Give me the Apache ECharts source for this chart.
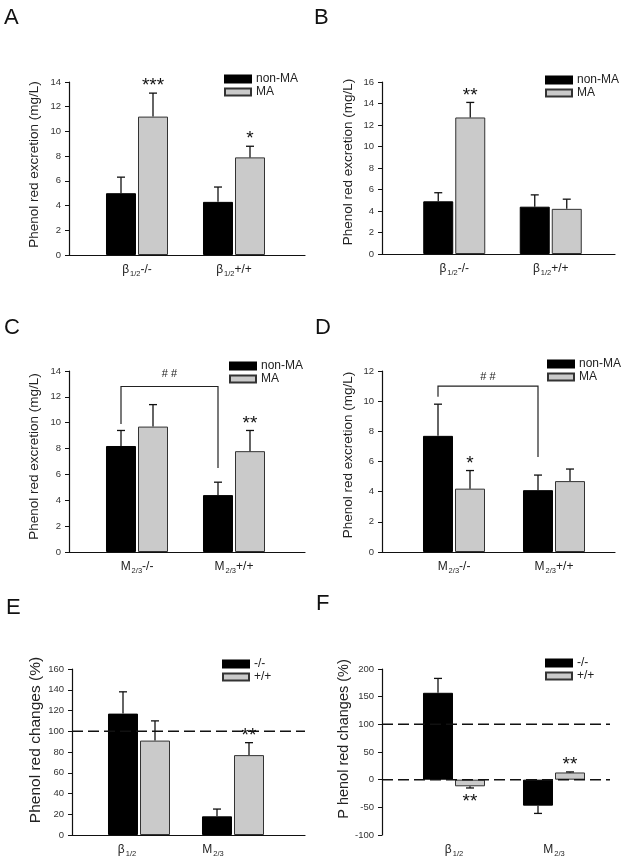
<!DOCTYPE html>
<html><head><meta charset="utf-8">
<script src="https://cdn.jsdelivr.net/npm/echarts@6/dist/echarts.min.js"></script>
<style>html,body{margin:0;padding:0;background:#fff}#c{width:625px;height:862px}</style>
</head><body><div id="c"></div>
<script>
// ---------- data ----------
const catsBeta = ['β|1/2|-/-', 'β|1/2|+/+'];
const catsM = ['M|2/3|-/-', 'M|2/3|+/+'];
const catsEF = ['β|1/2|', 'M|2/3|'];
const namesMA = ['non-MA', 'MA'];
const namesGeno = ['-/-', '+/+'];
const yNameExc = 'Phenol red excretion (mg/L)';
const yNameE = 'Phenol red changes (%)';
const yNameF = 'P henol red changes (%)';

// A
const nonMA_A = [5.0, 4.3], nonMA_A_err = [6.3, 5.5];
const MA_A = [11.2, 7.9], MA_A_err = [13.1, 8.8];
const sigMA_A = ['***', '*'];
// B
const nonMA_B = [4.9, 4.4], nonMA_B_err = [5.7, 5.5];
const MA_B = [12.7, 4.2], MA_B_err = [14.1, 5.1];
const sigMA_B = ['**', ''];
// C
const nonMA_C = [8.2, 4.4], nonMA_C_err = [9.4, 5.4];
const MA_C = [9.7, 7.8], MA_C_err = [11.4, 9.4];
const sigMA_C = ['', '**'];
const bracket_C = [9.9, 12.8, 6.5]; // left start, top, right end
// D
const nonMA_D = [7.7, 4.1], nonMA_D_err = [9.8, 5.1];
const MA_D = [4.2, 4.7], MA_D_err = [5.4, 5.5];
const sigMA_D = ['*', ''];
const bracket_D = [10.3, 11.0, 6.3];
// E
const ko_E = [117, 18], ko_E_err = [138, 25];
const wt_E = [91, 77], wt_E_err = [110, 89];
const sigWt_E = ['', '**'];
const ref_E = [100];
// F
const ko_F = [157, -47], ko_F_err = [183, -61];
const wt_F = [-12, 13], wt_F_err = [-15, 14];
const sigWt_F = ['**', '**'];
const ref_F = [100, 0];
const noSig = ['', ''];

// ---------- layout / style ----------
const FONT = '"Liberation Sans", Arial, Helvetica, sans-serif';
const panels = [
  {letter:'A', lp:[4,7], cats:catsBeta, names:namesMA, s1:nonMA_A, e1:nonMA_A_err, s2:MA_A, e2:MA_A_err, sig1:noSig, sig2:sigMA_A,
   yMin:0, yMax:14, yInt:2, yName:yNameExc, nameSize:13.5, nameGap:28, namePad:8,
   frame:[69,82,236,173], data:[88.5,194], legend:[224,73], axisLine:true, shift:[0,0]},
  {letter:'B', lp:[314,7], cats:catsBeta, names:namesMA, s1:nonMA_B, e1:nonMA_B_err, s2:MA_B, e2:MA_B_err, sig1:noSig, sig2:sigMA_B,
   yMin:0, yMax:16, yInt:2, yName:yNameExc, nameSize:13.5, nameGap:27, namePad:12,
   frame:[382,82,233,172], data:[406,193], legend:[545,74], axisLine:true, shift:[0,0]},
  {letter:'C', lp:[4,317], cats:catsM, names:namesMA, s1:nonMA_C, e1:nonMA_C_err, s2:MA_C, e2:MA_C_err, sig1:noSig, sig2:sigMA_C,
   yMin:0, yMax:14, yInt:2, yName:yNameExc, nameSize:13.5, nameGap:28, namePad:10,
   frame:[69,371,236,181], data:[88.5,194], legend:[229,360], axisLine:true, shift:[0,0],
   bracket:bracket_C, bLabel:'# #', bGap:13},
  {letter:'D', lp:[315,317], cats:catsM, names:namesMA, s1:nonMA_D, e1:nonMA_D_err, s2:MA_D, e2:MA_D_err, sig1:noSig, sig2:sigMA_D,
   yMin:0, yMax:12, yInt:2, yName:yNameExc, nameSize:13.5, nameGap:27, namePad:13,
   frame:[382,371,233,181], data:[404,200], legend:[547,358], axisLine:true, shift:[0,0],
   bracket:bracket_D, bLabel:'# #', bGap:9},
  {letter:'E', lp:[6,597], cats:catsEF, names:namesGeno, s1:ko_E, e1:ko_E_err, s2:wt_E, e2:wt_E_err, sig1:noSig, sig2:sigWt_E,
   yMin:0, yMax:160, yInt:20, yName:yNameE, nameSize:15.5, nameGap:28, namePad:24,
   frame:[72,669,233,166], data:[92,188], legend:[222,658], axisLine:true, shift:[12,20], refs:ref_E},
  {letter:'F', lp:[316,593], cats:catsEF, names:namesGeno, s1:ko_F, e1:ko_F_err, s2:wt_F, e2:wt_F_err, sig1:noSig, sig2:sigWt_F,
   yMin:-100, yMax:200, yInt:50, yName:yNameF, nameSize:14.5, nameGap:28, namePad:26,
   frame:[382,669,228,166], data:[404,200], legend:[545,657], axisLine:false, shift:[0,0], refs:ref_F}
];

const richCat = {
  m: {fontSize:12, color:'#222', fontFamily:FONT, lineHeight:16, verticalAlign:'middle'},
  s: {fontSize:7.5, color:'#222', fontFamily:FONT, lineHeight:16, verticalAlign:'bottom', padding:[0,0,0,1]},
  g12: {width:24}, g20: {width:40}
};
function fmtCat(v, i, shift) {
  const [a, s, b] = v.split('|');
  let t = '{m|' + a + '}{s|' + s + '}' + (b ? '{m|' + b + '}' : '');
  if (shift[i]) t += '{g' + shift[i] + '|}';
  return t;
}

function errSeries(ai, vals, errs, sig, off) {
  return {
    type:'custom', xAxisIndex:ai, yAxisIndex:ai, silent:true, z:4,
    data: vals.map((v, i) => [i, v, errs[i]]),
    renderItem(params, api) {
      const i = api.value(0), v = api.value(1), e = api.value(2);
      const p0 = api.coord([i, v]), p1 = api.coord([i, e]);
      const x = p0[0] + off, up = p1[1] < p0[1];
      const ch = [
        {type:'line', shape:{x1:x, y1:p0[1], x2:x, y2:p1[1]}, style:{stroke:'#111', lineWidth:1.3}},
        {type:'line', shape:{x1:x-4, y1:p1[1], x2:x+4, y2:p1[1]}, style:{stroke:'#111', lineWidth:1.3}}
      ];
      const s = sig[params.dataIndex];
      if (s) ch.push({type:'text', style:{text:s, x:x, y: up ? p1[1]-7 : p1[1]+14,
        align:'center', verticalAlign:'middle', font:'19px ' + FONT, fill:'#111'}});
      return {type:'group', children:ch};
    }
  };
}

const grid = [], xAxis = [], yAxis = [], series = [], legend = [], graphic = [];
panels.forEach((p, k) => {
  const fi = 2*k, di = 2*k + 1;
  const [fl, ft, fw, fh] = p.frame;
  grid.push({left:fl, top:ft, width:fw, height:fh});
  grid.push({left:p.data[0], top:ft, width:p.data[1], height:fh});
  xAxis.push({gridIndex:fi, type:'value', min:0, max:1,
    axisLine:{show:p.axisLine, onZero:false, lineStyle:{color:'#111', width:1.2}},
    axisTick:{show:false}, axisLabel:{show:false}, splitLine:{show:false}});
  xAxis.push({gridIndex:di, type:'category', data:p.cats,
    axisLine:{show:false, onZero:false}, axisTick:{show:false}, splitLine:{show:false},
    axisLabel:{interval:0, hideOverlap:false, margin:7, formatter:(v, i) => fmtCat(v, i, p.shift), rich:richCat}});
  yAxis.push({gridIndex:fi, type:'value', min:p.yMin, max:p.yMax, interval:p.yInt,
    name:p.yName, nameLocation:'middle', nameGap:p.nameGap,
    nameTextStyle:{fontSize:p.nameSize, color:'#222', fontFamily:FONT, padding:[0,0,0,p.namePad]},
    axisLine:{show:true, lineStyle:{color:'#111', width:1.2}},
    axisTick:{show:true, length:4, lineStyle:{color:'#111', width:1}},
    axisLabel:{fontSize:9.5, color:'#333', margin:8, fontFamily:FONT},
    splitLine:{show:false}});
  yAxis.push({gridIndex:di, type:'value', min:p.yMin, max:p.yMax, interval:p.yInt, show:false, splitLine:{show:false}});

  series.push({type:'bar', name:p.names[0], xAxisIndex:di, yAxisIndex:di, data:p.s1,
    barWidth:30, barGap:'6.67%', itemStyle:{color:'#000', borderColor:'#000', borderWidth:1}, z:2});
  series.push({type:'bar', name:p.names[1], xAxisIndex:di, yAxisIndex:di, data:p.s2,
    barWidth:30, barGap:'6.67%', itemStyle:{color:'#cacaca', borderColor:'#333', borderWidth:1}, z:2});
  series.push(errSeries(di, p.s1, p.e1, p.sig1, -16));
  series.push(errSeries(di, p.s2, p.e2, p.sig2, 16));

  if (p.bracket) {
    const lab = p.bLabel, gap = p.bGap;
    series.push({type:'custom', xAxisIndex:di, yAxisIndex:di, silent:true, z:4,
      data:[[0, 1].concat(p.bracket)],
      renderItem(params, api) {
        const pL = api.coord([api.value(0), api.value(2)]);
        const pT = api.coord([api.value(0), api.value(3)]);
        const pR = api.coord([api.value(1), api.value(4)]);
        const xL = pL[0] - 16, xR = pR[0] - 16, yT = pT[1];
        return {type:'group', children:[
          {type:'polyline', shape:{points:[[xL, pL[1]], [xL, yT], [xR, yT], [xR, pR[1]]]},
           style:{stroke:'#222', lineWidth:1.2, fill:null}},
          {type:'text', style:{text:lab, x:(xL + xR)/2, y:yT - gap, align:'center', verticalAlign:'middle',
           font:'11px ' + FONT, fill:'#222'}}
        ]};
      }});
  }
  if (p.refs) {
    series.push({type:'custom', xAxisIndex:fi, yAxisIndex:fi, silent:true, z:5,
      data:p.refs.map(r => [0, r]),
      renderItem(params, api) {
        const a = api.coord([0, api.value(1)]), b = api.coord([1, api.value(1)]);
        return {type:'line', shape:{x1:a[0], y1:a[1], x2:b[0], y2:b[1]},
          style:{stroke:'#111', lineWidth:1.5, lineDash:[11, 5]}};
      }});
  }
  legend.push({left:p.legend[0], top:p.legend[1], orient:'vertical', data:p.names, padding:0,
    itemWidth:26, itemHeight:7, itemGap:1, icon:'rect', selectedMode:false,
    textStyle:{fontSize:12, color:'#222', fontFamily:FONT, lineHeight:12}});
  graphic.push({type:'text', left:p.lp[0], top:p.lp[1],
    style:{text:p.letter, font:'22px ' + FONT, fill:'#111'}});
});

const chart = echarts.init(document.getElementById('c'), null, {renderer:'canvas'});
chart.setOption({animation:false, backgroundColor:'#fff', textStyle:{fontFamily:FONT},
  grid, xAxis, yAxis, series, legend, graphic});
</script>
</body></html>
